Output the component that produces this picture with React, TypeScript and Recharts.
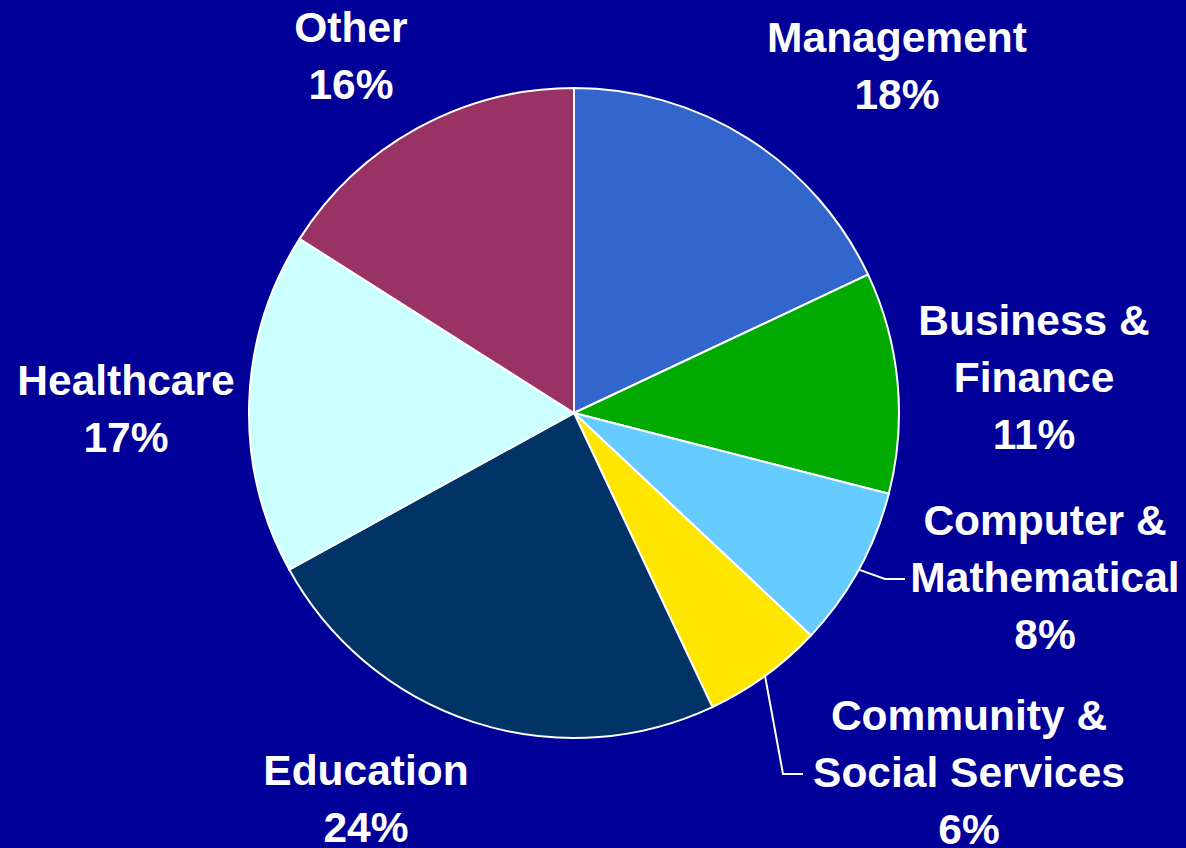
import { Cell, Pie, PieChart } from "recharts";

const CATEGORIES = [
  ["Management"],
  ["Business &", "Finance"],
  ["Computer &", "Mathematical"],
  ["Community &", "Social Services"],
  ["Education"],
  ["Healthcare"],
  ["Other"],
];
const SHARES = [18, 11, 8, 6, 24, 17, 16];
const COLORS = ["#3366CC", "#00AA00", "#66CCFF", "#FFE600", "#003366", "#CCFFFF", "#993366"];

// label anchor (first baseline, text centre) relative to pie centre
const LABEL_POS = [
  [323, -361],
  [460, -78],
  [471, 122],
  [395, 317],
  [-208, 372],
  [-448, -18],
  [-223, -371],
];
// leader lines: bend + end, relative to pie centre (null = none)
const LEADERS: (number[][] | null)[] = [
  null,
  null,
  [[311, 166], [331, 166]],
  [[209, 361], [229, 361]],
  null,
  null,
  null,
];

const RADIAN = Math.PI / 180;
const LINE_H = 57;

const data = SHARES.map((v, i) => ({ name: CATEGORIES[i].join(" "), value: v, idx: i }));

function renderLabel(props: any) {
  const { cx, cy, midAngle, outerRadius, index, value } = props;
  const [dx, dy] = LABEL_POS[index];
  const lines = [...CATEGORIES[index], `${value}%`];
  const leader = LEADERS[index];
  let path = null;
  if (leader) {
    const sx = cx + outerRadius * Math.cos(-midAngle * RADIAN);
    const sy = cy + outerRadius * Math.sin(-midAngle * RADIAN);
    const pts = [[sx, sy], ...leader.map(([x, y]) => [cx + x, cy + y])];
    path = (
      <polyline
        points={pts.map((p) => p.join(",")).join(" ")}
        fill="none"
        stroke="#ffffff"
        strokeWidth={2}
      />
    );
  }
  return (
    <g key={`lbl-${index}`}>
      {path}
      <text
        x={cx + dx}
        y={cy + dy}
        textAnchor="middle"
        fill="#ffffff"
        fontFamily="'Liberation Sans', Arial, sans-serif"
        fontWeight={700}
        fontSize={42.5}
      >
        {lines.map((t, i) => (
          <tspan key={i} x={cx + dx} y={cy + dy + i * LINE_H}>
            {t}
          </tspan>
        ))}
      </text>
    </g>
  );
}

export default function App() {
  return (
    <div style={{ width: 1186, height: 848, background: "#000099" }}>
      <style>{`body { margin: 0; }`}</style>
      <PieChart width={1186} height={848} margin={{ top: 0, right: 0, bottom: 0, left: 0 }}>
        <Pie
          data={data}
          dataKey="value"
          nameKey="name"
          cx={574}
          cy={413}
          outerRadius={325}
          startAngle={90}
          endAngle={-270}
          stroke="#ffffff"
          strokeWidth={2}
          labelLine={false}
          label={renderLabel}
          isAnimationActive={false}
        >
          {data.map((_, i) => (
            <Cell key={i} fill={COLORS[i]} />
          ))}
        </Pie>
      </PieChart>
    </div>
  );
}
